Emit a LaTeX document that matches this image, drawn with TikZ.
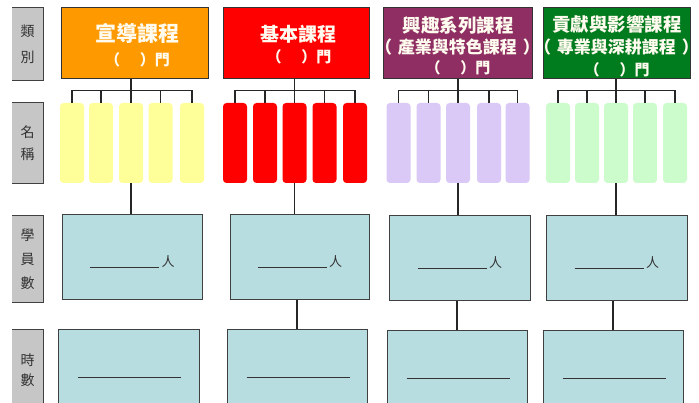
\documentclass[tikz,border=0pt]{standalone}
\usepackage{fontspec}
\newfontfamily\cjk{Noto Sans CJK TC}
\definecolor{corange}{HTML}{FF9900}
\definecolor{cred}{HTML}{FF0000}
\definecolor{cpurple}{HTML}{8E2E62}
\definecolor{cgreen}{HTML}{007B1E}
\definecolor{syel}{HTML}{FFFF99}
\definecolor{sred}{HTML}{FF0000}
\definecolor{slav}{HTML}{DAC8F6}
\definecolor{sgrn}{HTML}{CCFCCC}
\definecolor{boxblue}{HTML}{B8DDE0}
\definecolor{labgray}{HTML}{C6C6C6}
\definecolor{txtgray}{HTML}{333333}
\definecolor{cream}{HTML}{FFFBEE}
\newcommand\menlabel{（\hspace{20pt}）門}
\begin{document}
\begin{tikzpicture}[x=1pt,y=-1pt,
  catbox/.style={draw=black!80, line width=1pt, minimum height=71pt, inner sep=0pt},
  cattext/.style={text=cream, inner sep=0pt, font=\cjk\bfseries\fontsize{#1}{#1}\selectfont},
  smallbox/.style={rounded corners=3.5pt, minimum width=24pt, minimum height=80pt, inner sep=0pt},
  bigbox/.style={draw=black!75, line width=1pt, fill=boxblue, inner sep=0pt, minimum width=140pt},
  labbox/.style={fill=labgray, minimum width=31pt, inner sep=0pt, text=txtgray, align=center},
  labborder/.style={draw=black!75, line width=1pt},
  conn/.style={line width=1.3pt, draw=black!85},
  uline/.style={line width=1pt, draw=black!80},
  ren/.style={inner sep=0pt, text=txtgray, font=\cjk\fontsize{13}{13}\selectfont}
]
\clip (0,0) rectangle (699,403);
\fill[white] (0,0) rectangle (699,403);

% left labels
\node[labbox, minimum height=72pt, font=\cjk\fontsize{14}{26}\selectfont] (L1) at (27.5,44) {類\\別};
\node[labbox, minimum height=81pt, font=\cjk\fontsize{14}{22}\selectfont] (L2) at (27.5,143) {名\\稱};
\node[labbox, minimum height=86pt, font=\cjk\fontsize{14}{24}\selectfont] (L3) at (27.5,259) {學\\員\\數};
\node[labbox, minimum height=80pt, font=\cjk\fontsize{14}{20}\selectfont] (L4) at (27.5,370) {時\\數};
\foreach \n in {L1,L2,L3,L4}
  \draw[labborder] (\n.north west) -- (\n.north east) -- (\n.south east) -- (\n.south west);

% category boxes
\node[catbox, fill=corange, minimum width=147pt] (C1) at (134.5,43.5) {};
\node[catbox, fill=cred,    minimum width=146pt] (C2) at (296,43.5) {};
\node[catbox, fill=cpurple, minimum width=149pt] (C3) at (457.5,43.5) {};
\node[catbox, fill=cgreen,  minimum width=147pt] (C4) at (616.5,43.5) {};

\node[cattext=21] (t1a) at (137,33) {宣導課程};
\node[cattext=15] (t1b) at (137.5,60) {\menlabel};
\node[cattext=19] (t2a) at (298,34) {基本課程};
\node[cattext=15] (t2b) at (299,57) {\menlabel};
\node[cattext=18.5] (t3a) at (458,25) {興趣系列課程};
\node[cattext=17] (t3b) at (457.5,47) {（\kern6pt 產業與特色課程\kern6pt）};
\node[cattext=15] (t3c) at (458,68) {\menlabel};
\node[cattext=18.5] (t4a) at (617,24) {貢獻與影響課程};
\node[cattext=17] (t4b) at (616.5,47) {（\kern6pt 專業與深耕課程\kern6pt）};
\node[cattext=15] (t4c) at (617,70) {\menlabel};

% small boxes
\foreach \x [count=\i] in {72,101,131,160.5,192}
  \node[smallbox, fill=syel] (a\i) at (\x,143) {};
\foreach \x [count=\i] in {235,265,294.5,324.5,355}
  \node[smallbox, fill=sred] (b\i) at (\x,143) {};
\foreach \x [count=\i] in {398.5,428.5,458,489,517.5}
  \node[smallbox, fill=slav] (c\i) at (\x,143) {};
\foreach \x [count=\i] in {558,587,616,645,675}
  \node[smallbox, fill=sgrn] (d\i) at (\x,143) {};

% brackets
\foreach \g/\c in {a/C1,b/C2,c/C3,d/C4}{
  \draw[conn] (\g1.north) -- ++(0,-12) -| (\g5.north);
  \draw[conn] (\g2.north) -- ++(0,-12);
  \draw[conn] (\g4.north) -- ++(0,-12);
  \draw[conn] (\g3.north) -- (\g3.north |- \c.south);
}

% student-count boxes
\node[bigbox, minimum height=85pt] (P1) at (132,257.5) {};
\node[bigbox, minimum height=85pt, minimum width=139pt] (P2) at (299.5,257.5) {};
\node[bigbox, minimum height=85pt, minimum width=141pt] (P3) at (459.5,258) {};
\node[bigbox, minimum height=85pt, minimum width=141pt] (P4) at (616.5,258) {};

% hours boxes
\node[bigbox, minimum height=80pt, minimum width=141pt] (H1) at (128.5,370) {};
\node[bigbox, minimum height=80pt] (H2) at (297,370) {};
\node[bigbox, minimum height=80pt] (H3) at (457,371) {};
\node[bigbox, minimum height=80pt] (H4) at (613,371) {};

% connectors small -> student
\draw[conn] (a3.south) -- (a3.south |- P1.north);
\draw[conn] (b3.south) -- (b3.south |- P2.north);
\draw[conn] (c3.south) -- (c3.south |- P3.north);
\draw[conn] (d3.south) -- (d3.south |- P4.north);
% student -> hours
\draw[conn] (H2.north) -- (H2.north |- P2.south);
\draw[conn] (H3.north) -- (H3.north |- P3.south);
\draw[conn] (H4.north) -- (H4.north |- P4.south);

% contents
\foreach \p/\i in {P1/1,P2/2,P3/3,P4/4}{
  \draw[uline] ([xshift=-42pt,yshift=-10.5pt]\p.center) -- ++(69,0);
  \node[ren] (r\i) at ([xshift=36pt,yshift=-4.5pt]\p.center) {人};
}
\foreach \h in {H1,H2,H3,H4}
  \draw[uline] ([xshift=-50.5pt,yshift=-7pt]\h.center) -- ++(103,0);
\end{tikzpicture}
\end{document}
